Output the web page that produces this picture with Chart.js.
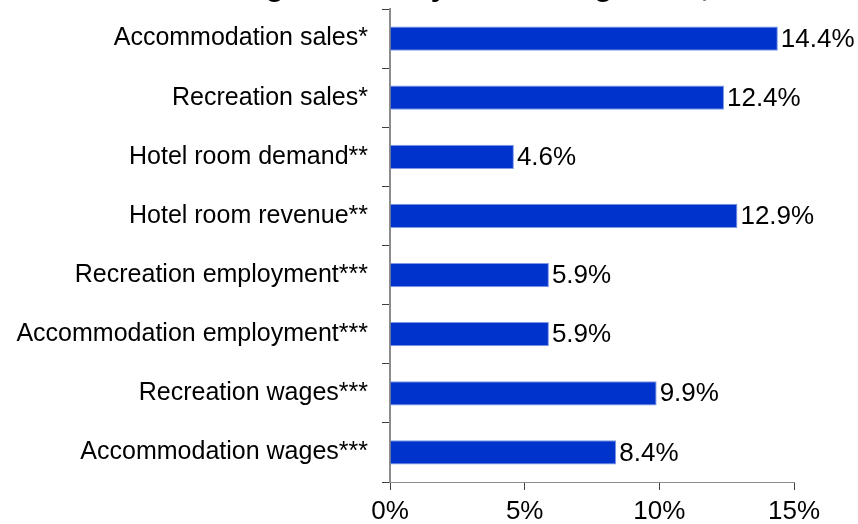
<!DOCTYPE html>
<html lang="en">
<head>
  <meta charset="UTF-8" />
  <meta name="viewport" content="width=device-width, initial-scale=1.0"/>
  <title>Tourism activity</title>
  <script src="https://cdn.jsdelivr.net/npm/chart.js"></script>
  <style>
    html, body { margin: 0; padding: 0; background: #fff; }
    #marco { position: relative; width: 858px; height: 524px; }
  </style>
</head>
<body>
  <div id="marco"><canvas id="grafica"></canvas></div>

  <script>
    const categorias = [
      "Accommodation sales*",
      "Recreation sales*",
      "Hotel room demand**",
      "Hotel room revenue**",
      "Recreation employment***",
      "Accommodation employment***",
      "Recreation wages***",
      "Accommodation wages***"
    ];
    const cambios = [14.4, 12.4, 4.6, 12.9, 5.9, 5.9, 9.9, 8.4];
    const ejeMin = 0;
    const ejeMax = 15;
    const ejePaso = 5;
    const titulo = "Percent change in activity across segments, 2011";

    const fuente = "'Liberation Sans', Arial, sans-serif";

    // titulo arriba (queda recortado por el borde del lienzo)
    const pluginTitulo = {
      id: "tituloManual",
      afterDraw(chart) {
        const ctx = chart.ctx;
        ctx.save();
        ctx.font = "bold 30px " + fuente;
        ctx.fillStyle = "#000";
        ctx.textAlign = "center";
        ctx.textBaseline = "alphabetic";
        ctx.fillText(titulo, 430, -4);
        ctx.restore();
      }
    };

    // etiquetas con el valor al final de cada barra
    const pluginValores = {
      id: "valores",
      afterDatasetsDraw(chart) {
        const ctx = chart.ctx;
        const meta = chart.getDatasetMeta(0);
        ctx.save();
        ctx.font = "26px " + fuente;
        ctx.fillStyle = "#000";
        ctx.textAlign = "left";
        ctx.textBaseline = "middle";
        meta.data.forEach((barra, i) => {
          ctx.fillText(cambios[i].toFixed(1) + "%", barra.x + 3, barra.y + 1);
        });
        ctx.restore();
      }
    };

    new Chart(document.getElementById("grafica"), {
      type: "bar",
      data: {
        labels: categorias,
        datasets: [{
          label: "Cambio",
          data: cambios,
          backgroundColor: "#0033cc",
          borderColor: "#7f99e6",
          borderWidth: 1,
          categoryPercentage: 1,
          barPercentage: 0.41
        }]
      },
      options: {
        indexAxis: "y",
        responsive: true,
        maintainAspectRatio: false,
        animation: false,
        layout: { padding: { top: 9, right: 64, bottom: 0, left: 0 } },
        plugins: {
          legend: { display: false },
          tooltip: { enabled: false }
        },
        scales: {
          x: {
            min: ejeMin,
            max: ejeMax,
            afterFit(scale) {
              scale.height = 42;
              scale.paddingLeft = 0;
              scale.paddingRight = 0;
            },
            ticks: {
              stepSize: ejePaso,
              color: "#000",
              padding: 6,
              font: { family: fuente, size: 26 },
              callback: v => v + "%"
            },
            grid: { drawOnChartArea: false, tickLength: 8, color: "#404040" },
            border: { color: "#8c8c8c", width: 1 }
          },
          y: {
            afterFit(scale) {
              scale.width = 390;
              scale.paddingTop = 0;
              scale.paddingBottom = 0;
            },
            ticks: {
              color: "#000",
              padding: 14,
              font: { family: fuente, size: 25 }
            },
            grid: { offset: true, drawOnChartArea: false, tickLength: 8, color: "#404040" },
            border: { color: "#8c8c8c", width: 2 }
          }
        }
      },
      plugins: [pluginTitulo, pluginValores]
    });
  </script>
</body>
</html>
